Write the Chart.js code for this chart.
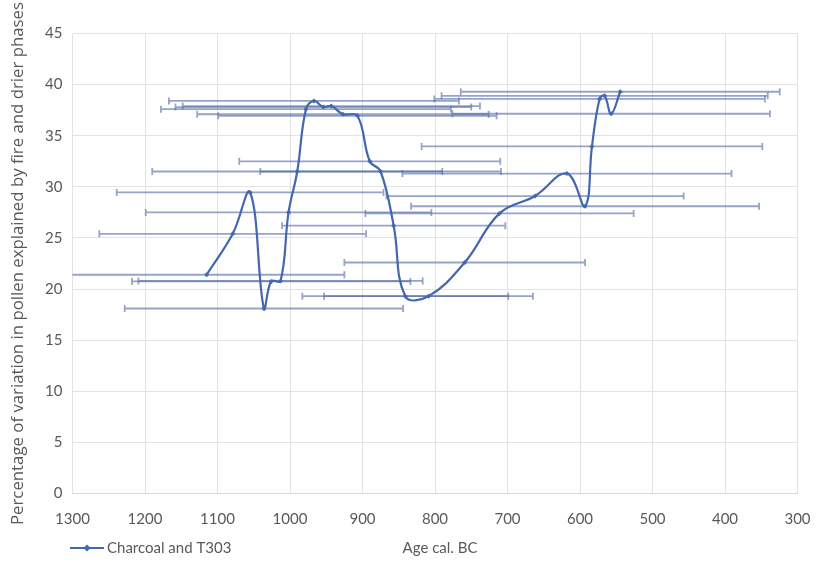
<!DOCTYPE html>
<html>
<head>
<meta charset="utf-8">
<title>Charcoal and T303</title>
<script src="https://cdn.jsdelivr.net/npm/chart.js@4.4.0/dist/chart.umd.min.js"></script>
<style>
  html, body { margin: 0; padding: 0; background: #fff; }
  #wrap { width: 816px; height: 563px; position: relative; }
</style>
</head>
<body>
<div id="wrap"><canvas id="chartPollen"></canvas></div>
<script>
// Age (cal. BC), share of pollen variation (%) and +/- age uncertainty
const ages = [1115, 1079, 1055, 1036, 1026, 1013, 1002, 990, 978, 967,
              954, 943, 927, 907, 890, 875, 857, 841, 809, 759,
              711, 662, 618, 593, 583.5, 573, 566, 557, 544.5];
const shares = [21.4, 25.4, 29.45, 18.1, 20.75, 20.8, 27.5, 31.5, 37.6, 38.4,
                37.8, 37.9, 37.1, 36.95, 32.5, 31.5, 26.2, 19.3, 19.3, 22.6,
                27.4, 29.1, 31.3, 28.1, 33.95, 38.6, 38.9, 37.15, 39.3];
const ageErrors = [190, 184, 184, 192, 192, 196, 197, 200, 200, 200,
                   204, 205, 201, 192, 180, 166, 154, 142, 144, 166,
                   185, 205, 227, 240, 235, 228, 225, 219, 220];

const seriesName = 'Charcoal and T303';
const xTitle = 'Age cal. BC';
const yTitle = 'Percentage of variation in pollen explained by fire and drier phases';

const lineColor = '#4567ae';
const textColor = '#595959';
const labelFont = "Lato, 'Liberation Sans', sans-serif";

// horizontal error bars, drawn under the line
const errorBars = {
    id: 'errorBars',
    beforeDatasetsDraw(chart) {
        const { ctx, chartArea: a, scales: { x, y } } = chart;
        ctx.save();
        ctx.beginPath();
        ctx.rect(a.left, a.top, a.right - a.left, a.bottom - a.top);
        ctx.clip();
        ctx.strokeStyle = 'rgba(80,104,164,0.6)';
        ctx.lineWidth = 1.8;
        ages.forEach((age, i) => {
            const py = y.getPixelForValue(shares[i]);
            const x0 = x.getPixelForValue(age + ageErrors[i]);
            const x1 = x.getPixelForValue(age - ageErrors[i]);
            ctx.beginPath();
            ctx.moveTo(x0, py); ctx.lineTo(x1, py);
            ctx.moveTo(x0, py - 3.5); ctx.lineTo(x0, py + 3.5);
            ctx.moveTo(x1, py - 3.5); ctx.lineTo(x1, py + 3.5);
            ctx.stroke();
        });
        ctx.restore();
    }
};

// legend sample + x axis title share one row under the tick labels
const bottomRow = {
    id: 'bottomRow',
    afterDraw(chart) {
        const { ctx, chartArea: a } = chart;
        const rowY = 548;
        ctx.save();
        ctx.strokeStyle = lineColor;
        ctx.fillStyle = lineColor;
        ctx.lineWidth = 2;
        ctx.beginPath();
        ctx.moveTo(70, rowY); ctx.lineTo(104, rowY);
        ctx.stroke();
        ctx.beginPath();
        ctx.moveTo(87, rowY - 3.5); ctx.lineTo(90.5, rowY);
        ctx.lineTo(87, rowY + 3.5); ctx.lineTo(83.5, rowY);
        ctx.closePath();
        ctx.fill();

        ctx.fillStyle = textColor;
        ctx.font = '15px ' + labelFont;
        ctx.textBaseline = 'middle';
        ctx.textAlign = 'left';
        ctx.fillText(chart.data.datasets[0].label, 107, rowY);
        ctx.textAlign = 'center';
        ctx.fillText(xTitle, (a.left + a.right) / 2 + 5, rowY);
        ctx.restore();
    }
};

new Chart(document.getElementById('chartPollen'), {
    type: 'line',
    data: {
        datasets: [{
            label: seriesName,
            data: ages.map((age, i) => ({ x: age, y: shares[i] })),
            borderColor: lineColor,
            backgroundColor: lineColor,
            borderWidth: 2.2,
            tension: 0.4,
            pointStyle: 'rectRot',
            pointRadius: 2.5,
            pointBorderWidth: 0,
            fill: false
        }]
    },
    options: {
        responsive: true, maintainAspectRatio: false,
        animation: false,
        layout: { padding: { top: 33.5, right: 18.5, bottom: 0, left: 0 } },
        plugins: { legend: { display: false }, tooltip: { enabled: false } },
        scales: {
            x: {
                type: 'linear', reverse: true, min: 300, max: 1300,
                afterFit: s => { s.height = 69.5; s.paddingLeft = 0; s.paddingRight = 0; },
                grid: { color: '#e3e3e3', drawTicks: false },
                border: { color: '#d9d9d9' },
                ticks: { stepSize: 100, padding: 17, color: textColor,
                    callback: v => String(v),
                    font: { family: labelFont, size: 15 } }
            },
            y: {
                min: 0, max: 45,
                afterFit: s => { s.width = 72.5; },
                grid: { color: '#e3e3e3', drawTicks: false },
                border: { display: false },
                ticks: { stepSize: 5, padding: 10, color: textColor,
                    font: { family: labelFont, size: 15 } },
                title: { display: true, text: yTitle, color: textColor,
                    padding: { top: 8, bottom: 0 },
                    font: { family: "'Open Sans', sans-serif", size: 16.8 } }
            }
        }
    },
    plugins: [errorBars, bottomRow]
});
</script>
</body>
</html>
